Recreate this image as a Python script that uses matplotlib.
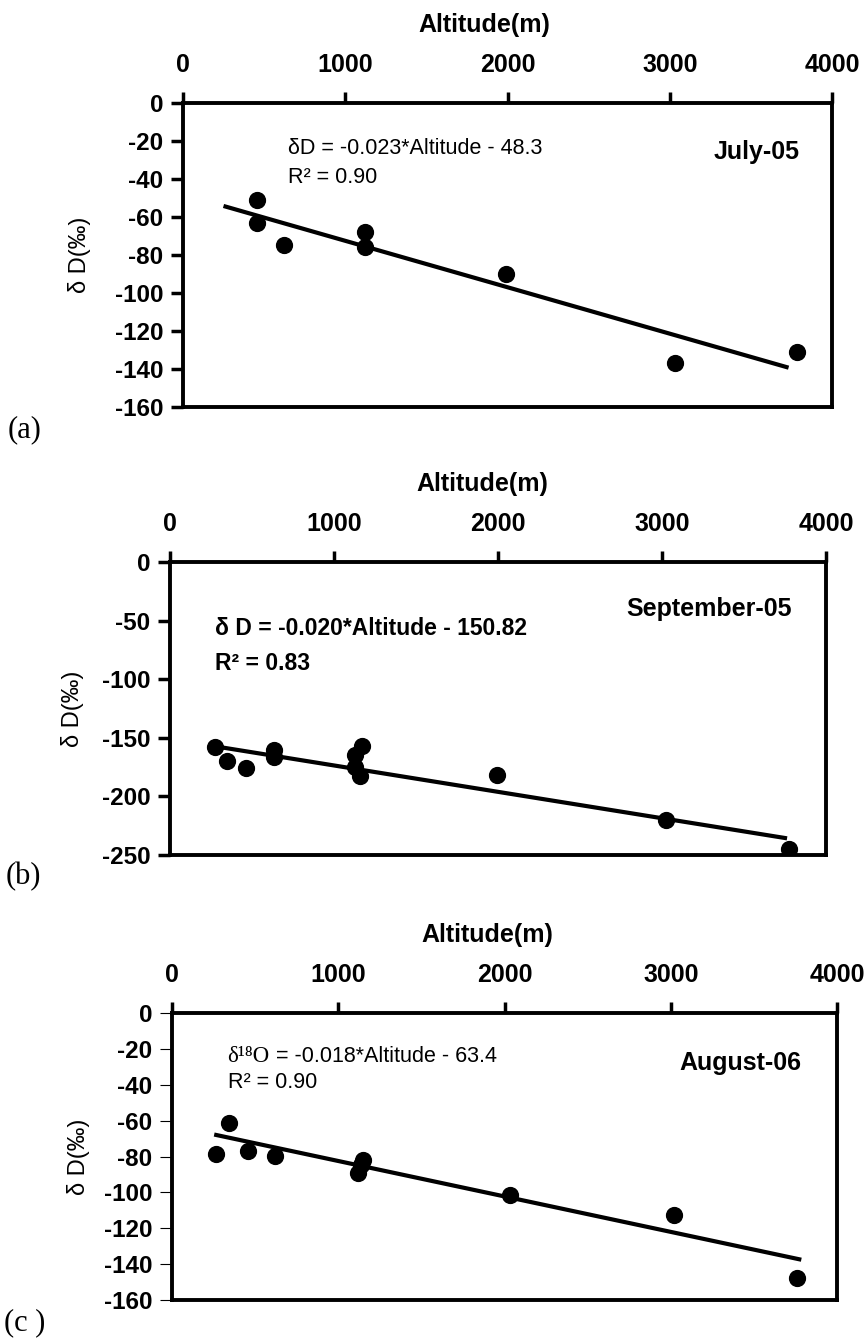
import matplotlib
matplotlib.use('Agg')
import matplotlib.pyplot as plt

plt.rcParams['font.family'] = ['Liberation Sans', 'DejaVu Sans']
plt.rcParams['axes.unicode_minus'] = False

# altitude (m) vs deltaD (permil)
alt_jul05 = [455, 455, 620, 1124, 1124, 1989, 3030, 3782]
dD_jul05 = [-51, -63, -74.5, -68, -76, -90, -137, -131]
fit_x_jul05 = [262, 3720]
fit_y_jul05 = [-54.5, -139]

alt_sep05 = [272, 345, 462, 633, 633, 1128, 1128, 1160, 1168, 1992, 3024, 3772]
dD_sep05 = [-158, -170, -176, -160, -166, -165, -175, -183, -157, -182, -220, -245]
fit_x_sep05 = [285, 3750]
fit_y_sep05 = [-157.5, -235.5]

alt_aug06 = [266, 340, 458, 622, 1118, 1134, 1151, 2033, 3019, 3759]
dD_aug06 = [-78.5, -61.5, -77, -79.5, -89, -85, -82, -101.5, -112.5, -147.5]
fit_x_aug06 = [266, 3773]
fit_y_aug06 = [-68, -137.3]

x_ticks = [0, 1000, 2000, 3000, 4000]
y_ticks_20 = [0, -20, -40, -60, -80, -100, -120, -140, -160]
y_ticks_50 = [0, -50, -100, -150, -200, -250]

W, H = 868, 1338
fig = plt.figure(figsize=(W / 100, H / 100), dpi=100)


def rect(l, t, r, b):
    return [l / W, 1 - b / H, (r - l) / W, (b - t) / H]


def panel(box, x, y, fx, fy, yticks, xlab_x, ylab_pad, ytick_w=2.5):
    ax = fig.add_axes(rect(*box))
    ax.scatter(x, y, s=130, color='black', zorder=3)
    ax.plot(fx, fy, color='black', lw=3)
    ax.set_xlim(0, 4000)
    ax.set_ylim(min(yticks), 0)
    ax.set_xticks(x_ticks)
    ax.set_yticks(yticks)
    for s in ax.spines.values():
        s.set_linewidth(2.8)
    ax.tick_params(axis='x', top=True, bottom=False, labeltop=True, labelbottom=False,
                   direction='out', length=8, width=2.5, pad=10.5, labelsize=18)
    ax.tick_params(axis='y', direction='out', length=9, width=ytick_w, pad=5, labelsize=17.5)
    for lb in ax.get_xticklabels() + ax.get_yticklabels():
        lb.set_fontweight('bold')
    ax.xaxis.set_label_position('top')
    ax.set_xlabel('Altitude(m)', fontsize=18, fontweight='bold', labelpad=15, x=xlab_x)
    ax.set_ylabel('δ D(‰)', fontsize=17, labelpad=ylab_pad)
    return ax


ax1 = panel((183, 103, 832, 407), alt_jul05, dD_jul05, fit_x_jul05, fit_y_jul05,
            y_ticks_20, 0.464, 17)
ax1.text(650, -24, 'δD = -0.023*Altitude - 48.3', fontsize=15.5, va='center')
ax1.text(650, -39, 'R² = 0.90', fontsize=15.5, va='center')
ax1.text(3800, -26, 'July-05', fontsize=18, fontweight='bold', ha='right', va='center')

ax2 = panel((170, 562, 826, 855), alt_sep05, dD_sep05, fit_x_sep05, fit_y_sep05,
            y_ticks_50, 0.476, 13)
ax2.text(272, -57, 'δ D = -0.020*Altitude - 150.82', fontsize=16.5, fontweight='bold', va='center')
ax2.text(272, -87, 'R² = 0.83', fontsize=16.5, fontweight='bold', va='center')
ax2.text(3790, -40, 'September-05', fontsize=18, fontweight='bold', ha='right', va='center')

ax3 = panel((172, 1013, 837, 1300), alt_aug06, dD_aug06, fit_x_aug06, fit_y_aug06,
            y_ticks_20, 0.474, 10, ytick_w=0.8)
t = ax3.text(334, -24, 'δ¹⁸O', fontsize=16.5, va='center', family=['Liberation Serif', 'DejaVu Serif'])
ax3.annotate(' = -0.018*Altitude - 63.4', xy=(1, 0), xycoords=t, fontsize=15.5, va='bottom')
ax3.text(334, -39, 'R² = 0.90', fontsize=15.5, va='center')
ax3.text(3786, -28, 'August-06', fontsize=18, fontweight='bold', ha='right', va='center')

serif = ['Liberation Serif', 'DejaVu Serif']
fig.text(8 / W, 1 - 430 / H, '(a)', fontsize=22, family=serif, va='center')
fig.text(6 / W, 1 - 877 / H, '(b)', fontsize=22, family=serif, va='center')
fig.text(4 / W, 1 - 1323 / H, '(c )', fontsize=22, family=serif, va='center')

fig.savefig('out.png', dpi=100)
